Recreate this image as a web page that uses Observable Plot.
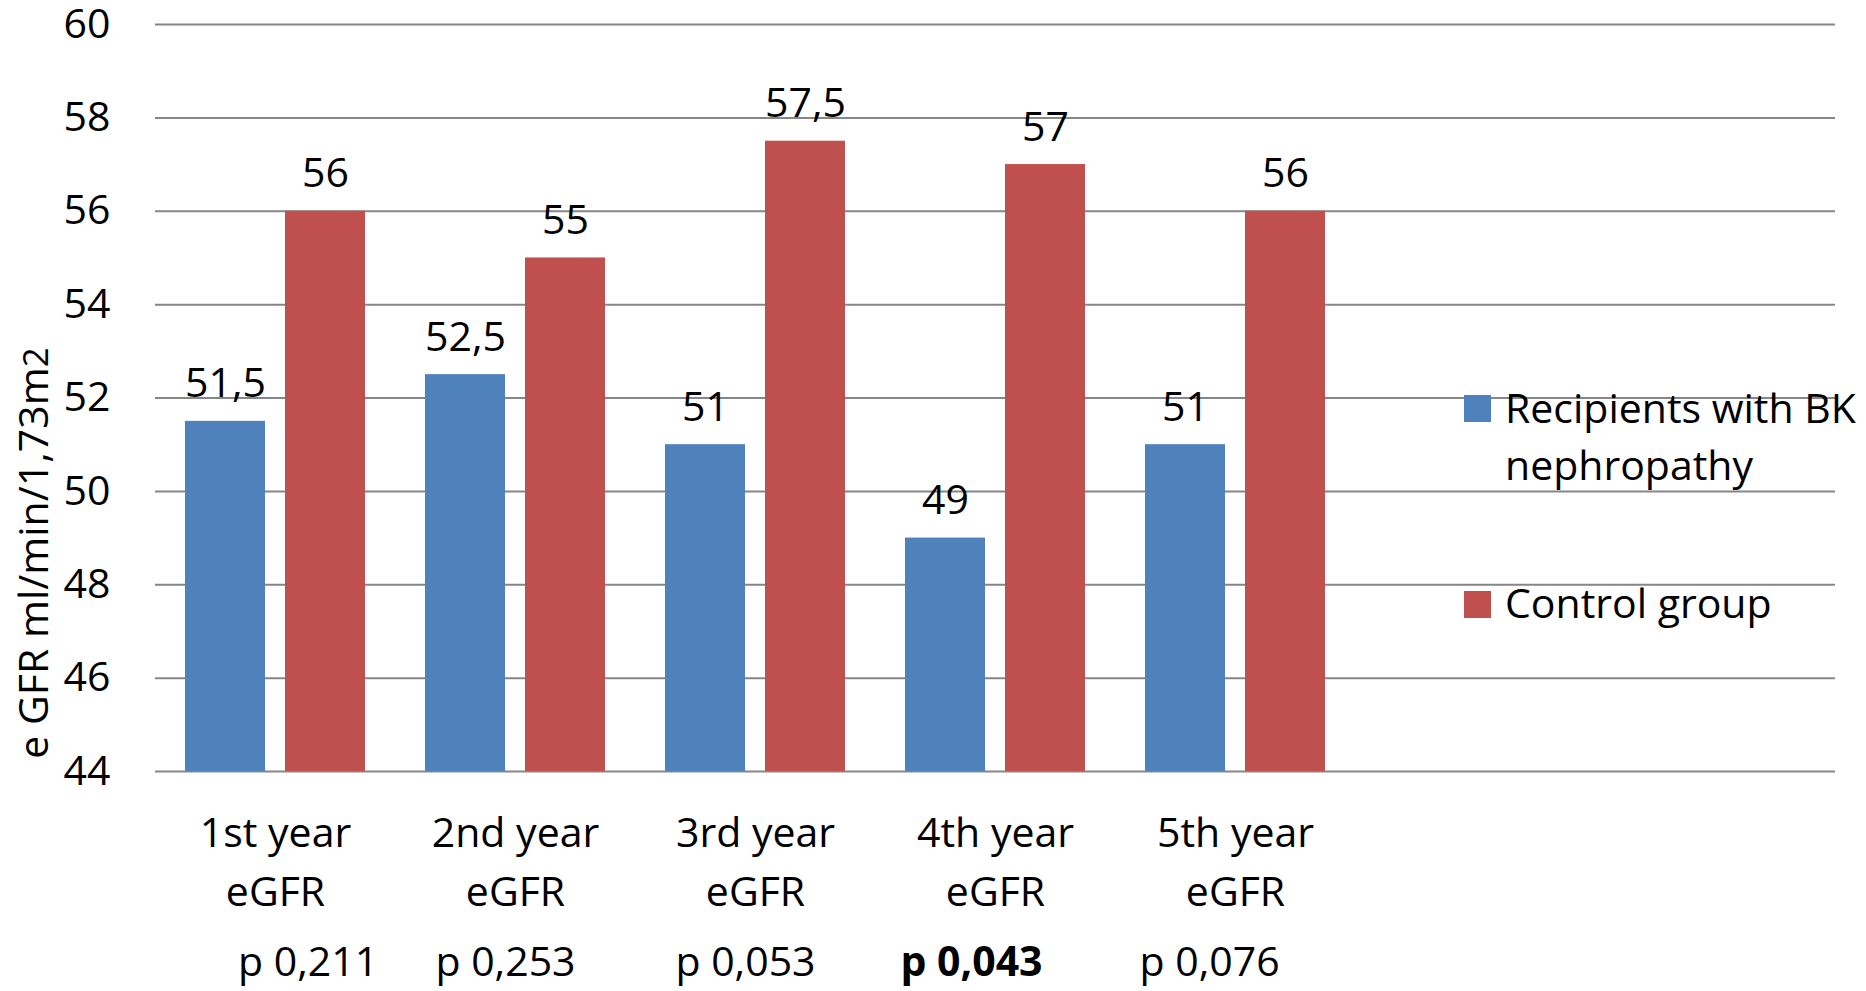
<!DOCTYPE html>
<html><head><meta charset="utf-8">
<script src="https://cdn.jsdelivr.net/npm/d3@7"></script>
<script src="https://cdn.jsdelivr.net/npm/@observablehq/plot@0.6"></script>
<style>
html,body{margin:0;padding:0;background:#fff;overflow:hidden;}
#wrap{position:relative;width:1866px;height:991px;font-family:"Open Sans",sans-serif;color:#000;}
#wrap svg{position:absolute;left:0;top:0;}
.ytitle{position:absolute;left:32px;top:553px;transform:translate(-50%,-50%) rotate(-90deg);white-space:nowrap;font-size:41px;line-height:normal;}
.sw{position:absolute;width:27px;height:27px;}
.lt{position:absolute;white-space:nowrap;font-size:41px;line-height:57px;}
</style></head><body><div id="wrap"></div>
<script>
const categories = ["1st year\neGFR", "2nd year\neGFR", "3rd year\neGFR", "4th year\neGFR", "5th year\neGFR"];
const emptyCategories = ["", " "];
const series = ["Recipients with BK nephropathy", "Control group"];
const bkValues = [51.5, 52.5, 51, 49, 51];
const controlValues = [56, 55, 57.5, 57, 56];
const pLabels = ["\u00a0\u00a0\u00a0\u00a0\u00a0\u00a0\u00a0\u00a0p 0,211", "p 0,253", "p 0,053", "p 0,043", "p 0,076\u00a0\u00a0\u00a0"];
const pBold = [false, false, false, true, false];
const yTicks = [44, 46, 48, 50, 52, 54, 56, 58, 60];
const colors = ["#4F81BD", "#C0504D"];

const allCategories = [...categories, ...emptyCategories];
const rows = [];
categories.forEach((c, i) => {
  rows.push({cat: c, series: series[0], value: bkValues[i]});
  rows.push({cat: c, series: series[1], value: controlValues[i]});
});
const gridRows = allCategories.flatMap(c => yTicks.map(t => ({cat: c, y: t})));
const pRows = categories.map((c, i) => ({cat: c, p: pLabels[i], bold: pBold[i]}));
const yMin = yTicks[0], yMax = yTicks[yTicks.length - 1];
const fmt = v => String(v).replace(".", ",");

const chart = Plot.plot({
  width: 1866,
  height: 991,
  marginLeft: 153,
  marginRight: 30,
  marginTop: 24,
  marginBottom: 220,
  style: {fontFamily: "'Open Sans', sans-serif", fontSize: "41px", color: "#000", background: "transparent"},
  fx: {domain: allCategories, paddingInner: 0, paddingOuter: 0, axis: null},
  x: {domain: series, paddingInner: 0.199, paddingOuter: 0.2955, axis: null},
  y: {domain: [yMin, yMax], ticks: yTicks, tickSize: 0, tickPadding: 45, label: null, tickFormat: d => String(d)},
  color: {domain: series, range: colors},
  marks: [
    Plot.ruleY(gridRows, {fx: "cat", y: "y", stroke: "#868686", strokeWidth: 2}),
    Plot.barY(rows, {fx: "cat", x: "series", y1: () => yMin, y2: "value", fill: "series"}),
    Plot.text(rows, {fx: "cat", x: "series", y: "value", text: d => fmt(d.value), dy: -37, fill: "#000"}),
    Plot.axisFx({anchor: "bottom", tickSize: 0, tickPadding: 34, lineHeight: 1.44, label: null, fill: "#000"}),
    Plot.text(pRows.filter(d => !d.bold), {fx: "cat", text: "p", frameAnchor: "bottom", lineAnchor: "top", dy: 175, dx: -10, fill: "#000", style: "white-space:pre"}),
    Plot.text(pRows.filter(d => d.bold), {fx: "cat", text: "p", frameAnchor: "bottom", lineAnchor: "top", dy: 175, dx: -24, fill: "#000", fontWeight: "bold"})
  ]
});

const wrap = document.getElementById("wrap");
wrap.appendChild(chart);

const yt = document.createElement("div");
yt.className = "ytitle";
yt.innerHTML = 'e GFR ml/min/1,73m<span style="font-size:0.85em">2</span>';
wrap.appendChild(yt);

const legendTops = [395, 591];
const legendTextTops = [378.6, 573.6];
const legendTexts = ["Recipients with BK<br>nephropathy", "Control group"];
series.forEach((s, i) => {
  const sw = document.createElement("div");
  sw.className = "sw";
  sw.style.left = "1464px";
  sw.style.top = legendTops[i] + "px";
  sw.style.background = colors[i];
  wrap.appendChild(sw);
  const t = document.createElement("div");
  t.className = "lt";
  t.style.left = "1505px";
  t.style.top = legendTextTops[i] + "px";
  t.innerHTML = legendTexts[i];
  wrap.appendChild(t);
});
</script></body></html>
